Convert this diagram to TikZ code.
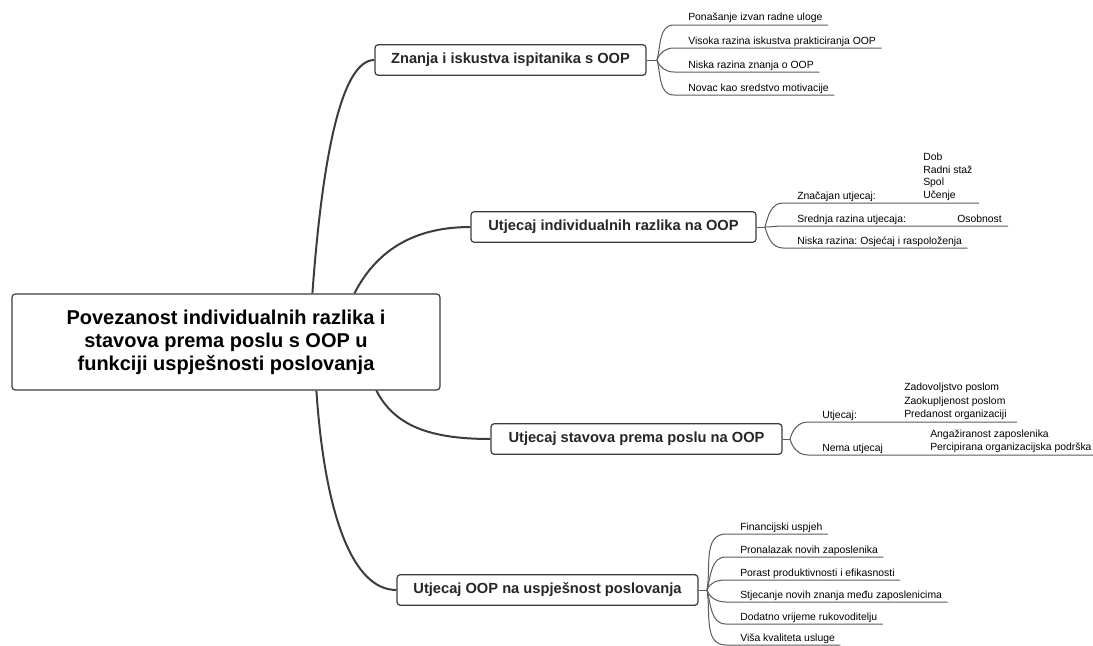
\documentclass[tikz,border=0pt]{standalone}
\usepackage{fontspec}
\setmainfont{Liberation Sans}
\usetikzlibrary{calc}
\frenchspacing
\definecolor{edge}{HTML}{3C3C3C}
\definecolor{leafline}{HTML}{5A5A5A}
\newcommand\lconn[3]{\draw[twig] (#1) to[out=#3,in=180] ([xshift=-10.5pt,yshift=-3pt]#2.base west) -- ([xshift=4pt,yshift=-3pt]#2.base east);}
\newcommand\lconnx[4]{\draw[twig] (#1) to[out=#3,in=180] ([xshift=-10.5pt,yshift=-3pt]#2.base west) -- (#4);}
\begin{document}
\begin{tikzpicture}[x=0.75pt,y=0.75pt,
  mainbox/.style={draw=edge, line width=0.9pt, rounded corners=2.5pt, fill=white, align=center,
    font=\fontsize{15}{17.3}\selectfont\bfseries, minimum width=321pt, minimum height=72pt, inner sep=0pt},
  branch/.style={draw=edge, line width=0.9pt, rounded corners=2.5pt, fill=white,
    font=\fontsize{11}{13}\selectfont\bfseries, minimum height=23pt, inner sep=0pt, text=black!85},
  leaf/.style={anchor=base west, inner sep=0pt, font=\fontsize{7.8}{9.5}\selectfont},
  sublist/.style={anchor=south west, inner sep=0pt, align=left, font=\fontsize{7.8}{9.5}\selectfont},
  trunk/.style={draw=edge, line width=1.5pt},
  twig/.style={draw=leafline, line width=0.75pt},
]
\useasboundingbox (0,0) rectangle (1093,-646);

% central and branch nodes
\node[mainbox] (main) at (226,-342) {Povezanost individualnih razlika i\\stavova prema poslu s OOP u\\funkciji uspješnosti poslovanja};
\node[branch, minimum width=203.25pt] (b1) at (510.5,-60) {Znanja i iskustva ispitanika s OOP};
\node[branch, minimum width=213.75pt] (b2) at (613.5,-227) {Utjecaj individualnih razlika na OOP};
\node[branch, minimum width=218.25pt] (b3) at (636.5,-439) {Utjecaj stavova prema poslu na OOP};
\node[branch, minimum width=225.75pt] (b4) at (547.5,-590) {Utjecaj OOP na uspješnost poslovanja};

% trunk connectors
\coordinate (m1) at ($(main.north west)+(301,0)$);
\coordinate (m2) at ($(main.north west)+(343,0)$);
\coordinate (m3) at ($(main.south west)+(365,0)$);
\coordinate (m4) at ($(main.south west)+(305,0)$);
\draw[trunk] (m1) .. controls +(9,124) and +(-35,0) .. (b1.west);
\draw[trunk] (m2) .. controls +(20,39) and +(-61,0) .. (b2.west);
\draw[trunk] (m3) .. controls +(18,-35) and +(-61,0) .. (b3.west);
\draw[trunk] (m4) .. controls +(8,-120) and +(-45,0) .. (b4.west);

% junctions
\coordinate (j1) at (657,-60);
\coordinate (j2) at (765,-227);
\coordinate (j3) at (790,-439);
\coordinate (j4) at (707,-590);
\draw[twig] (b1.east) -- (j1);
\draw[twig] (b2.east) -- (j2);
\draw[twig] (b3.east) -- (j3);
\draw[twig] (b4.east) -- (j4);

% branch 1 leaves
\node[leaf] (l11) at (688,-21) {Ponašanje izvan radne uloge};
\node[leaf] (l12) at (688,-44) {Visoka razina iskustva prakticiranja OOP};
\node[leaf] (l13) at (688,-68) {Niska razina znanja o OOP};
\node[leaf] (l14) at (688,-91) {Novac kao sredstvo motivacije};
\lconn{j1}{l11}{75}
\lconn{j1}{l12}{70}
\lconn{j1}{l13}{-70}
\lconn{j1}{l14}{-75}

% branch 2 leaves
\node[leaf] (l21) at (797,-199) {Značajan utjecaj:};
\node[sublist] (s21) at (923,-201) {Dob\\Radni staž\\Spol\\Učenje};
\node[leaf] (l22) at (797,-222) {Srednja razina utjecaja:};
\node[leaf] (s22) at (957,-222) {Osobnost};
\node[leaf] (l23) at (797,-244) {Niska razina: Osjećaj i raspoloženja};
\coordinate (u21) at (979,-203);
\coordinate (u22) at (1008,-226);
\lconnx{j2}{l21}{75}{u21}
\lconnx{j2}{l22}{0}{u22}
\lconn{j2}{l23}{-75}

% branch 3 leaves
\node[leaf] (l31) at (822,-418) {Utjecaj:};
\node[sublist, font=\fontsize{7.8}{10.1}\selectfont] (s31) at (904,-420) {Zadovoljstvo poslom\\Zaokupljenost poslom\\Predanost organizaciji};
\node[leaf] (l32) at (822,-451) {Nema utjecaj};
\node[sublist, font=\fontsize{7.8}{10.1}\selectfont] (s32) at (930,-453) {Angažiranost zaposlenika\\Percipirana organizacijska podrška};
\coordinate (u31) at (1017,-422);
\coordinate (u32) at (1093,-455);
\lconnx{j3}{l31}{75}{u31}
\lconnx{j3}{l32}{-75}{u32}

% branch 4 leaves
\node[leaf] (l41) at (740,-530) {Financijski uspjeh};
\node[leaf] (l42) at (740,-553) {Pronalazak novih zaposlenika};
\node[leaf] (l43) at (740,-576) {Porast produktivnosti i efikasnosti};
\node[leaf] (l44) at (740,-598) {Stjecanje novih znanja među zaposlenicima};
\node[leaf] (l45) at (740,-620) {Dodatno vrijeme rukovoditelju};
\node[leaf] (l46) at (740,-641) {Viša kvaliteta usluge};
\lconn{j4}{l41}{80}
\lconn{j4}{l42}{75}
\lconn{j4}{l43}{70}
\lconn{j4}{l44}{-70}
\lconn{j4}{l45}{-75}
\lconn{j4}{l46}{-80}
\end{tikzpicture}
\end{document}
